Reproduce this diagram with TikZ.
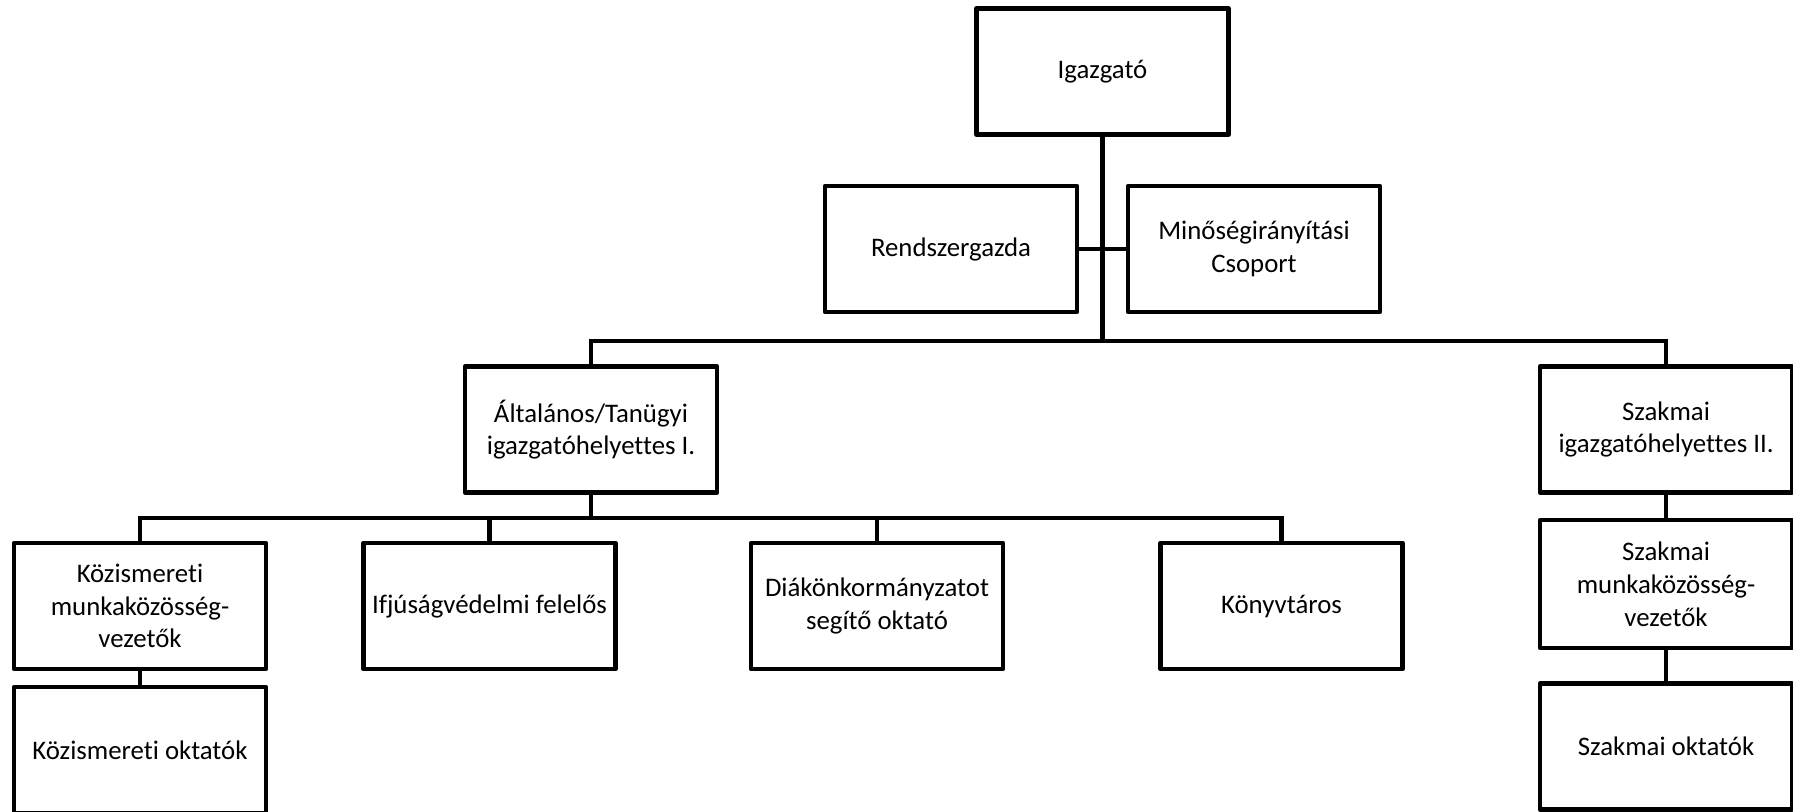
\documentclass[tikz,border=0pt]{standalone}
\usepackage{fontspec}
\setmainfont{Carlito}[Ligatures=NoCommon]
\usepackage{tikz}
\usetikzlibrary{positioning,calc}
\tikzset{orgbox/.style={draw=black,line width=2.2pt,rectangle,minimum width=126pt,minimum height=63pt,
    inner sep=1pt,align=center,font=\fontsize{13.4}{16.4}\selectfont,line join=round},
  conn/.style={draw=black,line width=2.2pt}}

\begin{document}
\begin{tikzpicture}[x=0.5pt,y=-0.5pt]
    \useasboundingbox(0,0)rectangle(1793,811);
    % top
    \node[orgbox](ig)at(1102.5,71.5){Igazgató};
    \node[orgbox](rend)at(951,249){Rendszergazda};
    \node[orgbox](minos)at(1254,249){Minőségirányítási\\Csoport};
    % deputies
    \node[orgbox](alt)at(591,429.5){Általános/Tanügyi\\igazgatóhelyettes I.};
    \node[orgbox](szig)at(1666,429.5){Szakmai\\igazgatóhelyettes II.};
    % level 3
    \node[orgbox](kmkv)at(140,606){Közismereti\\munkaközösség-\\vezetők};
    \node[orgbox](ifj)at(489.5,606){Ifjúságvédelmi felelős};
    \node[orgbox](diak)at(877,606){Diákönkormányzatot\\segítő oktató};
    \node[orgbox,minimum width=121pt](konyv)at(1281.5,606){Könyvtáros};
    \node[orgbox](kokt)at(140,750){Közismereti oktatók};
    \node[orgbox,minimum height=64pt](szmkv)at(1666,584){Szakmai\\munkaközösség-\\vezetők};
    \node[orgbox](szokt)at(1666,746.5){Szakmai oktatók};
    % lines
    \coordinate(bus1)at(1102.5,341);
    \coordinate(bus2)at(591,518);
    \draw[conn](ig.south)--(bus1);
    \draw[conn](rend.east)--(minos.west);
    \draw[conn](alt.north)|-(bus1)-|(szig.north);
    \draw[conn](alt.south)--(bus2);
    \draw[conn](kmkv.north)|-(bus2)-|(konyv.north);
    \draw[conn](ifj.north)--(ifj.north|-bus2);
    \draw[conn](diak.north)--(diak.north|-bus2);
    \draw[conn](kmkv.south)--(kokt.north);
    \draw[conn](szig.south)--(szmkv.north);
    \draw[conn](szmkv.south)--(szokt.north);
  \end{tikzpicture}
\end{document}
